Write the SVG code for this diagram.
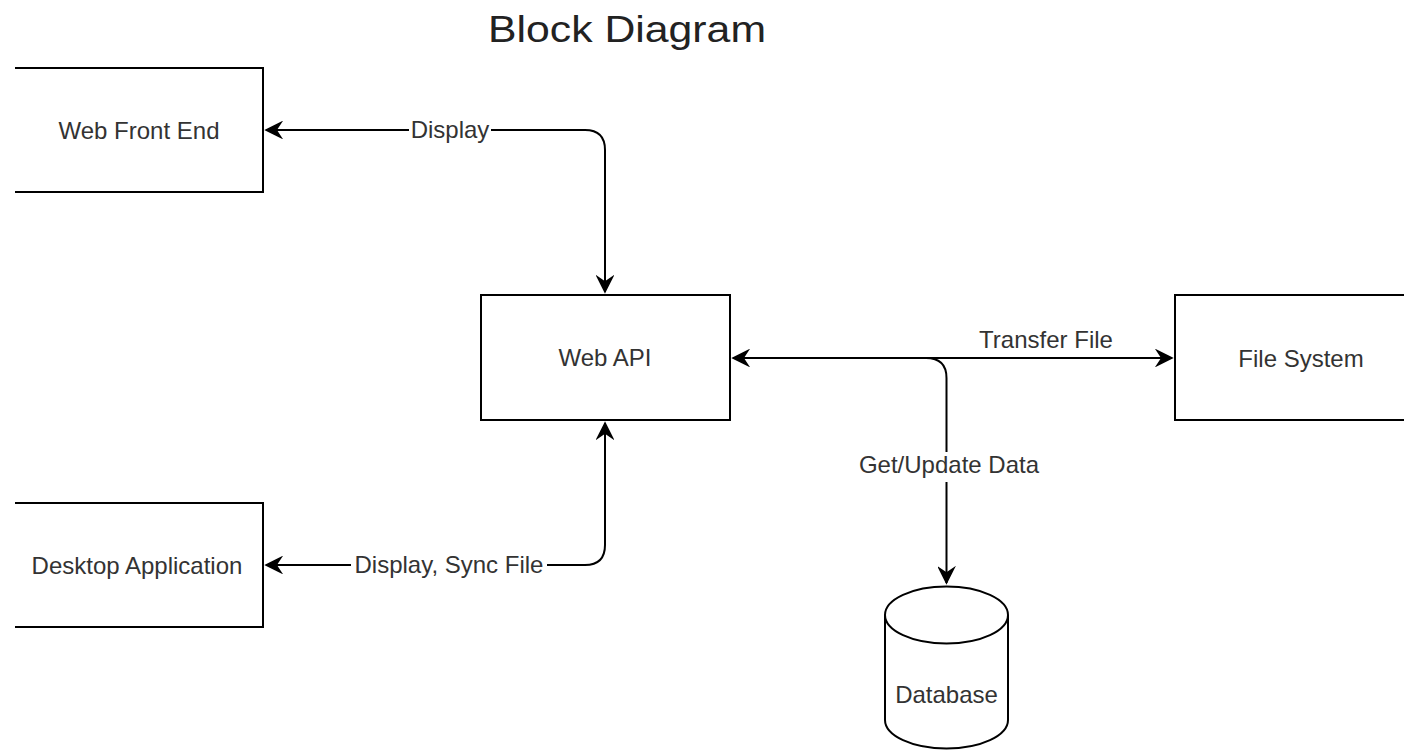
<svg xmlns="http://www.w3.org/2000/svg" width="1404" height="751" viewBox="0 0 1404 751">
<style>
.box{fill:#fff;stroke:#000;stroke-width:2}
.lbl{font-family:"Liberation Sans",Arial,sans-serif;font-size:24px;fill:#333;text-anchor:middle}
.edge{fill:none;stroke:#000;stroke-width:2}
.bg{fill:#fff}
</style>
<defs>
<marker id="arr" viewBox="-17 -9 19 18" refX="0" refY="0" markerWidth="19" markerHeight="18" markerUnits="userSpaceOnUse" orient="auto-start-reverse">
<path d="M0,0 L-15,-7.5 L-10,0 L-15,7.5 Z" fill="#000" stroke="#000" stroke-width="1.5" stroke-linejoin="miter"/>
</marker>
</defs>
<rect width="1404" height="751" fill="#fff"/>
<text x="627" y="42" font-family="'Liberation Sans',Arial,sans-serif" font-size="37" fill="#222" text-anchor="middle" textLength="278" lengthAdjust="spacingAndGlyphs">Block Diagram</text>

<g id="connectors">
<path class="edge" d="M266,130 L585,130 Q605,130 605,150 L605,292" marker-start="url(#arr)" marker-end="url(#arr)"/>
<path class="edge" d="M266,565 L585,565 Q605,565 605,545 L605,423" marker-start="url(#arr)" marker-end="url(#arr)"/>
<path class="edge" d="M733,358 L1172,358" marker-start="url(#arr)" marker-end="url(#arr)"/>
<path class="edge" d="M926,358 Q946.5,358 946.5,378 L946.5,583" marker-end="url(#arr)"/>
<rect class="bg" x="409" y="118" width="82" height="26"/>
<text class="lbl" x="450" y="138">Display</text>
<rect class="bg" x="351" y="552" width="196" height="26"/>
<text class="lbl" x="449" y="573">Display, Sync File</text>
<text class="lbl" x="1046" y="348">Transfer File</text>
<rect class="bg" x="856" y="452" width="187" height="30"/>
<text class="lbl" x="949" y="473">Get/Update Data</text>
</g>

<g id="web-front-end">
<path class="box" d="M15,68 L263,68 L263,192 L15,192"/>
<text class="lbl" x="139" y="139">Web Front End</text>
</g>

<g id="desktop-application">
<path class="box" d="M15,503 L263,503 L263,627 L15,627"/>
<text class="lbl" x="137" y="574">Desktop Application</text>
</g>

<g id="web-api">
<rect class="box" x="481" y="295" width="249" height="125"/>
<text class="lbl" x="605" y="366">Web API</text>
</g>

<g id="file-system">
<path class="box" d="M1406,295 L1175,295 L1175,420 L1406,420"/>
<text class="lbl" x="1301" y="367">File System</text>
</g>

<g id="database">
<path class="box" d="M885,615 A61.5,28.5 0 0 1 1008,615 L1008,720 A61.5,28.5 0 0 1 885,720 Z"/>
<path class="edge" d="M885,615 A61.5,28.5 0 0 0 1008,615"/>
<text class="lbl" x="946.5" y="703">Database</text>
</g>
</svg>
